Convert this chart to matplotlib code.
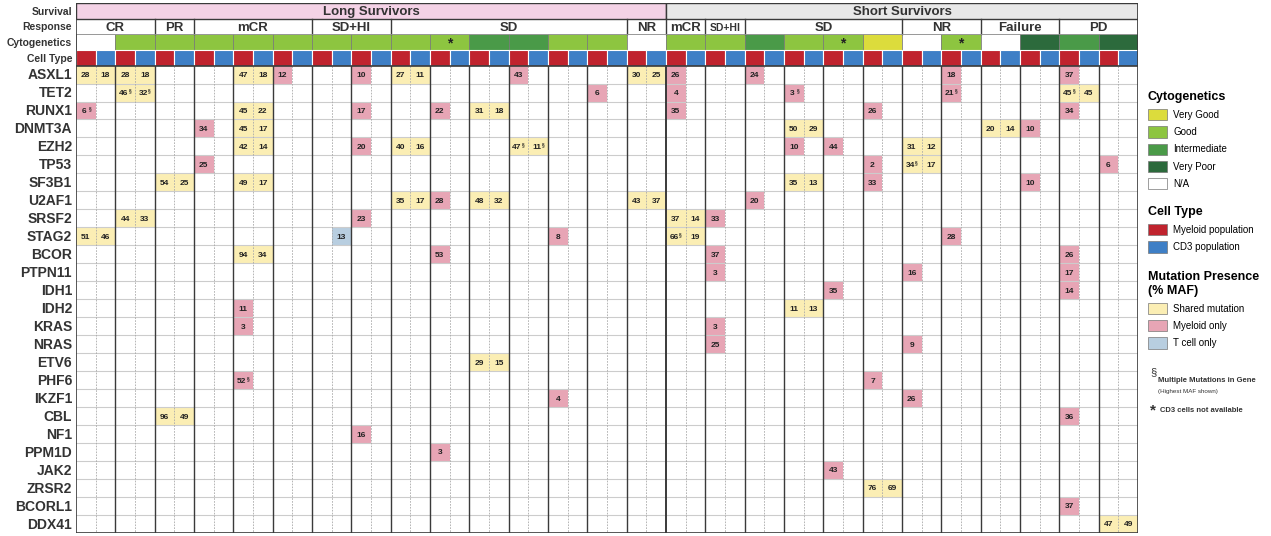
import matplotlib.pyplot as plt
from matplotlib.patches import Rectangle, Patch

plt.rcParams['font.family'] = ['Liberation Sans', 'DejaVu Sans']

# ---- data ----
genes = ['ASXL1', 'TET2', 'RUNX1', 'DNMT3A', 'EZH2', 'TP53', 'SF3B1', 'U2AF1', 'SRSF2',
         'STAG2', 'BCOR', 'PTPN11', 'IDH1', 'IDH2', 'KRAS', 'NRAS', 'ETV6', 'PHF6',
         'IKZF1', 'CBL', 'NF1', 'PPM1D', 'JAK2', 'ZRSR2', 'BCORL1', 'DDX41']

survival_groups = [('Long Survivors', 15), ('Short Survivors', 12)]
response_groups = [('CR', 2), ('PR', 1), ('mCR', 3), ('SD+HI', 2), ('SD', 6), ('NR', 1),
                   ('mCR', 1), ('SD+HI', 1), ('SD', 4), ('NR', 2), ('Failure', 2), ('PD', 2)]
cytogenetics = ['N/A', 'Good', 'Good', 'Good', 'Good', 'Good', 'Good', 'Good',
                'Good', 'Good', 'Intermediate', 'Intermediate', 'Good', 'Good', 'N/A',
                'Good', 'Good', 'Intermediate', 'Good', 'Good', 'Very Good',
                'N/A', 'Good', 'N/A', 'Very Poor', 'Intermediate', 'Very Poor']
no_cd3 = [9, 19, 22]  # patients without CD3 cells (*)

# (gene, column, % MAF)  -- columns alternate myeloid / CD3 per patient
shared_cells = [
    ('ASXL1', 0, '28'), ('ASXL1', 1, '18'), ('ASXL1', 2, '28'), ('ASXL1', 3, '18'),
    ('ASXL1', 8, '47'), ('ASXL1', 9, '18'), ('ASXL1', 16, '27'), ('ASXL1', 17, '11'),
    ('ASXL1', 28, '30'), ('ASXL1', 29, '25'),
    ('TET2', 2, '46§'), ('TET2', 3, '32§'), ('TET2', 50, '45§'), ('TET2', 51, '45'),
    ('RUNX1', 8, '45'), ('RUNX1', 9, '22'), ('RUNX1', 20, '31'), ('RUNX1', 21, '18'),
    ('DNMT3A', 8, '45'), ('DNMT3A', 9, '17'), ('DNMT3A', 36, '50'), ('DNMT3A', 37, '29'),
    ('DNMT3A', 46, '20'), ('DNMT3A', 47, '14'),
    ('EZH2', 8, '42'), ('EZH2', 9, '14'), ('EZH2', 16, '40'), ('EZH2', 17, '16'),
    ('EZH2', 22, '47§'), ('EZH2', 23, '11§'), ('EZH2', 42, '31'), ('EZH2', 43, '12'),
    ('TP53', 42, '34§'), ('TP53', 43, '17'),
    ('SF3B1', 4, '54'), ('SF3B1', 5, '25'), ('SF3B1', 8, '49'), ('SF3B1', 9, '17'),
    ('SF3B1', 36, '35'), ('SF3B1', 37, '13'),
    ('U2AF1', 16, '35'), ('U2AF1', 17, '17'), ('U2AF1', 20, '48'), ('U2AF1', 21, '32'),
    ('U2AF1', 28, '43'), ('U2AF1', 29, '37'),
    ('SRSF2', 2, '44'), ('SRSF2', 3, '33'), ('SRSF2', 30, '37'), ('SRSF2', 31, '14'),
    ('STAG2', 0, '51'), ('STAG2', 1, '46'), ('STAG2', 30, '66§'), ('STAG2', 31, '19'),
    ('BCOR', 8, '94'), ('BCOR', 9, '34'),
    ('IDH2', 36, '11'), ('IDH2', 37, '13'),
    ('ETV6', 20, '29'), ('ETV6', 21, '15'),
    ('CBL', 4, '96'), ('CBL', 5, '49'),
    ('ZRSR2', 40, '76'), ('ZRSR2', 41, '69'),
    ('DDX41', 52, '47'), ('DDX41', 53, '49'),
]
myeloid_cells = [
    ('ASXL1', 10, '12'), ('ASXL1', 14, '10'), ('ASXL1', 22, '43'), ('ASXL1', 30, '26'),
    ('ASXL1', 34, '24'), ('ASXL1', 44, '18'), ('ASXL1', 50, '37'),
    ('TET2', 26, '6'), ('TET2', 30, '4'), ('TET2', 36, '3§'), ('TET2', 44, '21§'),
    ('RUNX1', 0, '6§'), ('RUNX1', 14, '17'), ('RUNX1', 18, '22'), ('RUNX1', 30, '35'),
    ('RUNX1', 40, '26'), ('RUNX1', 50, '34'),
    ('DNMT3A', 6, '34'), ('DNMT3A', 48, '10'),
    ('EZH2', 14, '20'), ('EZH2', 36, '10'), ('EZH2', 38, '44'),
    ('TP53', 6, '25'), ('TP53', 40, '2'), ('TP53', 52, '6'),
    ('SF3B1', 40, '33'), ('SF3B1', 48, '10'),
    ('U2AF1', 18, '28'), ('U2AF1', 34, '20'),
    ('SRSF2', 14, '23'), ('SRSF2', 32, '33'),
    ('STAG2', 24, '8'), ('STAG2', 44, '28'),
    ('BCOR', 18, '53'), ('BCOR', 32, '37'), ('BCOR', 50, '26'),
    ('PTPN11', 32, '3'), ('PTPN11', 42, '16'), ('PTPN11', 50, '17'),
    ('IDH1', 38, '35'), ('IDH1', 50, '14'),
    ('IDH2', 8, '11'),
    ('KRAS', 8, '3'), ('KRAS', 32, '3'),
    ('NRAS', 32, '25'), ('NRAS', 42, '9'),
    ('PHF6', 8, '52§'), ('PHF6', 40, '7'),
    ('IKZF1', 24, '4'), ('IKZF1', 42, '26'),
    ('CBL', 50, '36'),
    ('NF1', 14, '16'),
    ('PPM1D', 18, '3'),
    ('JAK2', 38, '43'),
    ('BCORL1', 50, '37'),
]
tcell_cells = [('STAG2', 13, '13')]

cyto_colors = {'Very Good': '#dcdc3c', 'Good': '#8dc540', 'Intermediate': '#4a9a48',
               'Very Poor': '#2c6a3c', 'N/A': '#ffffff'}
cell_colors = {'Myeloid population': '#c0232e', 'CD3 population': '#3e7fc6'}
mut_colors = {'Shared mutation': '#fbeeb4', 'Myeloid only': '#e7a5b5', 'T cell only': '#b8cee0'}
surv_colors = ['#f4d2e6', '#e8e8e8']

n_pat = len(cytogenetics)
n_col = 2 * n_pat
n_gene = len(genes)
hh = 0.87  # header row height
y_surv, y_resp, y_cyto, y_cell = -4 * hh, -3 * hh, -2 * hh, -hh

fig = plt.figure(figsize=(12.71, 5.36), dpi=100)
ax = fig.add_axes([76 / 1271, 3 / 536, 1062 / 1271, 530 / 536])
ax.set_xlim(0, n_col)
ax.set_ylim(n_gene, y_surv)
ax.axis('off')

dark = '#3a3a3a'
txt = '#333333'

# survival row
x0 = 0
for (name, n), c in zip(survival_groups, surv_colors):
    ax.add_patch(Rectangle((x0, y_surv), 2 * n, hh, facecolor=c, edgecolor=dark, lw=1))
    ax.text(x0 + n, y_surv + hh * 0.6, name, ha='center', va='center', fontsize=9.5,
            fontweight='bold', color=txt)
    x0 += 2 * n

# response row
x0 = 0
for name, n in response_groups:
    fs = 7.5 if (name == 'SD+HI' and n == 1) else 9.5
    ax.text(x0 + n, y_resp + hh * 0.6, name, ha='center', va='center', fontsize=fs,
            fontweight='bold', color=txt)
    x0 += 2 * n
    ax.plot([x0, x0], [y_resp, y_cyto], color=dark, lw=1)

# cytogenetics row
for p, cat in enumerate(cytogenetics):
    ax.add_patch(Rectangle((2 * p, y_cyto), 2, hh, facecolor=cyto_colors[cat],
                           edgecolor='#777777', lw=0.5))
    if p in no_cd3:
        ax.text(2 * p + 1, y_cyto + hh * 0.6, '*', ha='center', va='center',
                fontsize=10, fontweight='bold', color='#222222')

# cell type row
for c in range(n_col):
    col = cell_colors['Myeloid population'] if c % 2 == 0 else cell_colors['CD3 population']
    ax.add_patch(Rectangle((c, y_cell), 1, hh, facecolor=col, edgecolor='white', lw=0.8))

# row labels
for lab, y in zip(['Survival', 'Response', 'Cytogenetics', 'Cell Type'],
                  [y_surv, y_resp, y_cyto, y_cell]):
    ax.text(-0.2, y + hh * 0.55, lab, ha='right', va='center', fontsize=7.5,
            fontweight='bold', color=txt)
for i, g in enumerate(genes):
    ax.text(-0.2, i + 0.55, g, ha='right', va='center', fontsize=10,
            fontweight='bold', color=txt)


# mutation cells
def draw_cells(cells, color):
    for gene, c, lab in cells:
        r = genes.index(gene)
        ax.add_patch(Rectangle((c, r), 1, 1, facecolor=color, edgecolor='none', zorder=1))
        if lab.endswith('§'):
            ax.text(c + 0.42, r + 0.55, lab[:-1], ha='center', va='center', fontsize=6,
                    fontweight='bold', color='#222222', zorder=4)
            ax.text(c + 0.74, r + 0.42, '§', ha='center', va='center', fontsize=3.5,
                    fontweight='bold', color='#222222', zorder=4)
        else:
            ax.text(c + 0.5, r + 0.55, lab, ha='center', va='center', fontsize=6,
                    fontweight='bold', color='#222222', zorder=4)


draw_cells(shared_cells, mut_colors['Shared mutation'])
draw_cells(myeloid_cells, mut_colors['Myeloid only'])
draw_cells(tcell_cells, mut_colors['T cell only'])

# grid lines
for r in range(1, n_gene):
    ax.plot([0, n_col], [r, r], color='#cccccc', lw=0.8, zorder=2)
for c in range(1, n_col):
    if c % 2 == 1:
        ax.plot([c, c], [0, n_gene], color='#aaaaaa', lw=0.6, ls=(0, (2, 1.5)), zorder=2)
    else:
        lw = 1.4 if c == 30 else 1.0
        ax.plot([c, c], [0, n_gene], color=dark, lw=lw, zorder=3)
ax.plot([0, n_col], [0, 0], color=dark, lw=1.2, zorder=3)
ax.plot([0, n_col], [y_cyto, y_cyto], color='#999999', lw=0.6, zorder=3)
ax.add_patch(Rectangle((0, y_surv), n_col, n_gene - y_surv, facecolor='none',
                       edgecolor=dark, lw=1.2, zorder=5))

# legends
leg_kw = dict(loc='upper left', frameon=False, fontsize=7, alignment='left',
              title_fontproperties={'weight': 'bold', 'size': 9},
              handlelength=2.0, handleheight=1.4, labelspacing=0.62, handletextpad=0.6,
              borderpad=0, borderaxespad=0)
h1 = [Patch(facecolor=v, edgecolor='#777777', lw=0.5, label=k) for k, v in cyto_colors.items()]
fig.legend(handles=h1, title='Cytogenetics', bbox_to_anchor=(1148 / 1271, 1 - 91 / 536), **leg_kw)
h2 = [Patch(facecolor=v, edgecolor='#777777', lw=0.5, label=k) for k, v in cell_colors.items()]
fig.legend(handles=h2, title='Cell Type', bbox_to_anchor=(1148 / 1271, 1 - 206 / 536), **leg_kw)
h3 = [Patch(facecolor=v, edgecolor='#777777', lw=0.5, label=k) for k, v in mut_colors.items()]
fig.legend(handles=h3, title='Mutation Presence\n(% MAF)',
           bbox_to_anchor=(1148 / 1271, 1 - 271 / 536), **leg_kw)

fig.text(1150 / 1271, 1 - 372 / 536, '§', fontsize=8, color=txt, va='center')
fig.text(1158 / 1271, 1 - 381 / 536, 'Multiple Mutations in Gene', fontsize=5.5,
         fontweight='bold', color=txt, va='center')
fig.text(1158 / 1271, 1 - 391 / 536, '(Highest MAF shown)', fontsize=4.5, color=txt, va='center')
fig.text(1150 / 1271, 1 - 410 / 536, '*', fontsize=11, fontweight='bold', color=txt, va='center')
fig.text(1160 / 1271, 1 - 410 / 536, 'CD3 cells not available', fontsize=5.5,
         fontweight='bold', color=txt, va='center')

fig.savefig('out.png', dpi=100)
